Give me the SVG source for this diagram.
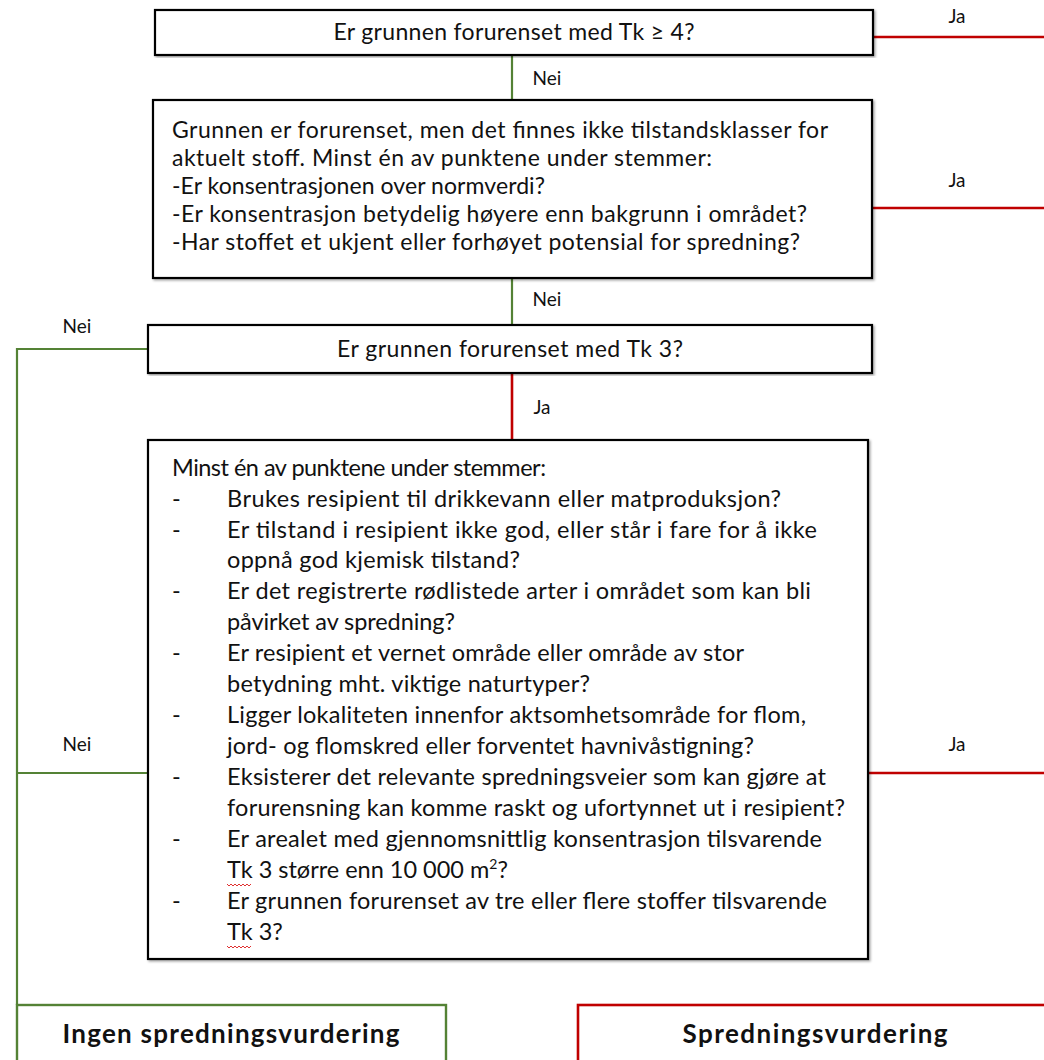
<svg xmlns="http://www.w3.org/2000/svg" width="1044" height="1060" viewBox="0 0 1044 1060">
<defs>
<filter id="sh" x="-5%" y="-5%" width="110%" height="110%">
<feDropShadow dx="1.5" dy="1.5" stdDeviation="0.8" flood-color="#000" flood-opacity="0.35"/>
</filter>
</defs>
<style>
.t{font-family:Lato,"Liberation Sans",sans-serif;font-size:23px;fill:#111}
.t4{font-size:23.5px}
.lbl{font-family:Lato,"Liberation Sans",sans-serif;font-size:19px;fill:#111}
.bold{font-family:Lato,"Liberation Sans",sans-serif;font-size:26px;font-weight:bold;fill:#111}
.box{fill:#fff;stroke:#000;stroke-width:2.2}
.gr{stroke:#548235;stroke-width:2.2;fill:none}
.rd{stroke:#c00000;stroke-width:2.6;fill:none}
.gbox{fill:#fff;stroke:#548235;stroke-width:2.4}
.rbox{fill:#fff;stroke:#c00000;stroke-width:2.6}
.sq{stroke:#e03030;stroke-width:1;fill:none}
</style>

<g id="connectors">
<path class="rd" d="M873 37 H1044"/>
<path class="rd" d="M872 208 H1044"/>
<path class="rd" d="M512 373 V440"/>
<path class="rd" d="M868 773 H1044"/>
<path class="gr" d="M512 55 V100"/>
<path class="gr" d="M512 278 V325"/>
<path class="gr" d="M148 349 H17 V1005"/>
<path class="gr" d="M148 773 H17"/>
<text class="lbl" x="957" y="23" text-anchor="middle">Ja</text>
<text class="lbl" x="547" y="85" text-anchor="middle">Nei</text>
<text class="lbl" x="957" y="187" text-anchor="middle">Ja</text>
<text class="lbl" x="547" y="306" text-anchor="middle">Nei</text>
<text class="lbl" x="77" y="333" text-anchor="middle">Nei</text>
<text class="lbl" x="542" y="414" text-anchor="middle">Ja</text>
<text class="lbl" x="77" y="751" text-anchor="middle">Nei</text>
<text class="lbl" x="957" y="751" text-anchor="middle">Ja</text>
</g>

<g id="q1">
<rect class="box" x="155" y="10" width="718" height="45" filter="url(#sh)"/>
<text class="t" x="514" y="40" text-anchor="middle" textLength="361">Er grunnen forurenset med Tk ≥ 4?</text>
</g>

<g id="q2">
<rect class="box" x="153" y="100" width="719" height="178" filter="url(#sh)"/>
<text class="t" x="172" y="138" textLength="656">Grunnen er forurenset, men det finnes ikke tilstandsklasser for</text>
<text class="t" x="172" y="166" textLength="540">aktuelt stoff. Minst én av punktene under stemmer:</text>
<text class="t" x="172" y="194" textLength="373">-Er konsentrasjonen over normverdi?</text>
<text class="t" x="172" y="222" textLength="635">-Er konsentrasjon betydelig høyere enn bakgrunn i området?</text>
<text class="t" x="172" y="250" textLength="628">-Har stoffet et ukjent eller forhøyet potensial for spredning?</text>
</g>

<g id="q3">
<rect class="box" x="148" y="325" width="724" height="48" filter="url(#sh)"/>
<text class="t" x="510" y="357" text-anchor="middle" textLength="346">Er grunnen forurenset med Tk 3?</text>
</g>

<g id="q4">
<rect class="box" x="148" y="440" width="720" height="519" filter="url(#sh)"/>
<text class="t t4" x="172" y="476" textLength="374">Minst én av punktene under stemmer:</text>
<g class="t t4">
<text x="172" y="507">-</text>
<text x="172" y="538">-</text>
<text x="172" y="599">-</text>
<text x="172" y="661">-</text>
<text x="172" y="723">-</text>
<text x="172" y="785">-</text>
<text x="172" y="847">-</text>
<text x="172" y="909">-</text>
</g>
<text class="t t4" x="227" y="507" textLength="554">Brukes resipient til drikkevann eller matproduksjon?</text>
<text class="t t4" x="227" y="538" textLength="590">Er tilstand i resipient ikke god, eller står i fare for å ikke</text>
<text class="t t4" x="227" y="568" textLength="293">oppnå god kjemisk tilstand?</text>
<text class="t t4" x="227" y="599" textLength="584">Er det registrerte rødlistede arter i området som kan bli</text>
<text class="t t4" x="227" y="630" textLength="228">påvirket av spredning?</text>
<text class="t t4" x="227" y="661" textLength="517">Er resipient et vernet område eller område av stor</text>
<text class="t t4" x="227" y="692" textLength="363">betydning mht. viktige naturtyper?</text>
<text class="t t4" x="227" y="723" textLength="579">Ligger lokaliteten innenfor aktsomhetsområde for flom,</text>
<text class="t t4" x="227" y="754" textLength="527">jord- og flomskred eller forventet havnivåstigning?</text>
<text class="t t4" x="227" y="785" textLength="599">Eksisterer det relevante spredningsveier som kan gjøre at</text>
<text class="t t4" x="227" y="816" textLength="618">forurensning kan komme raskt og ufortynnet ut i resipient?</text>
<text class="t t4" x="227" y="847" textLength="595">Er arealet med gjennomsnittlig konsentrasjon tilsvarende</text>
<text class="t t4" x="227" y="878">Tk 3 større enn 10 000 m<tspan dy="-9" font-size="14">2</tspan><tspan dy="9">?</tspan></text>
<text class="t t4" x="227" y="909" textLength="600">Er grunnen forurenset av tre eller flere stoffer tilsvarende</text>
<text class="t t4" x="227" y="940">Tk 3?</text>
<path class="sq" d="M227 884 l2 2 l2 -2 l2 2 l2 -2 l2 2 l2 -2 l2 2 l2 -2 l2 2 l2 -2 l2 2 l2 -2"/>
<path class="sq" d="M227 946 l2 2 l2 -2 l2 2 l2 -2 l2 2 l2 -2 l2 2 l2 -2 l2 2 l2 -2 l2 2 l2 -2"/>
</g>

<g id="no-assessment">
<rect class="gbox" x="17" y="1005" width="429" height="70"/>
<text class="bold" x="231" y="1043" text-anchor="middle" textLength="337">Ingen spredningsvurdering</text>
</g>

<g id="assessment">
<rect class="rbox" x="578" y="1005" width="480" height="70"/>
<text class="bold" x="815" y="1043" text-anchor="middle" textLength="265">Spredningsvurdering</text>
</g>
</svg>
